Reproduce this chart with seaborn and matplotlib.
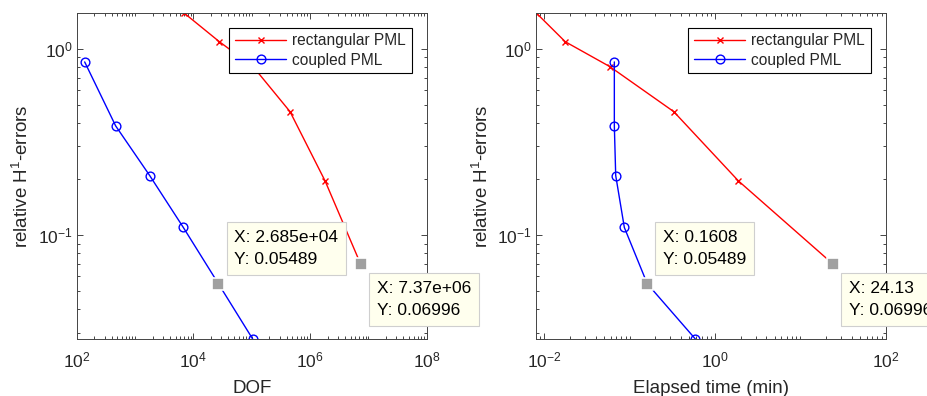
import numpy as np
import pandas as pd
import seaborn as sns
import matplotlib
matplotlib.use("Agg")
import matplotlib.pyplot as plt
from matplotlib.ticker import LogLocator, NullFormatter

# ---- data ----
dof_rect = [6830, 27900, 106000, 454000, 1810000, 7370000]
err_rect = [1.566, 1.094, 0.803, 0.4607, 0.1957, 0.06996]
dof_coup = [137, 466, 1784, 6730, 26850, 104000]
err_coup = [0.852, 0.386, 0.209, 0.110, 0.05489, 0.0277]
time_rect = [0.0080, 0.0176, 0.0589, 0.329, 1.88, 24.13]
time_coup = [0.0662, 0.0662, 0.0687, 0.0867, 0.1608, 0.589]
labels = ["rectangular PML", "coupled PML"]
xlabels = ["DOF", "Elapsed time (min)"]
ylabel = "relative H$^{1}$-errors"
# datatips: (x, y, text, above?)
tips_left = [(2.685e4, 0.05489, "X: 2.685e+04\nY: 0.05489", True),
             (7.37e6, 0.06996, "X: 7.37e+06\nY: 0.06996", False)]
tips_right = [(0.1608, 0.05489, "X: 0.1608\nY: 0.05489", True),
              (24.13, 0.06996, "X: 24.13\nY: 0.06996", False)]

sns.set_theme(style="white")
plt.rcParams["font.family"] = ["Liberation Sans", "DejaVu Sans"]
plt.rcParams["mathtext.fontset"] = "custom"
plt.rcParams["mathtext.rm"] = "Liberation Sans"
plt.rcParams["mathtext.it"] = "Liberation Sans"
plt.rcParams["mathtext.bf"] = "Liberation Sans"
plt.rcParams["axes.unicode_minus"] = False

W, H = 927, 396
fig = plt.figure(figsize=(W / 100, H / 100), dpi=100)
axL = fig.add_axes([76.7 / W, (H - 339) / H, 350 / W, 326.3 / H])
axR = fig.add_axes([536 / W, (H - 339) / H, 349.7 / W, 326.3 / H])

dark = "#262626"
ymin, ymax = min(err_rect + err_coup), max(err_rect + err_coup)

def draw(ax, xr, xc, xlim, xticks, tips, xlabel):
    sns.lineplot(x=xr, y=err_rect, ax=ax, sort=False, estimator=None,
                 color="red", lw=1.0, marker="x", markersize=5,
                 mec="red", mew=1.0, label=labels[0])
    sns.lineplot(x=xc, y=err_coup, ax=ax, sort=False, estimator=None,
                 color="blue", lw=1.0, marker="o", markersize=6.3,
                 mfc="none", mec="blue", mew=1.0, label=labels[1])
    ax.set_xscale("log")
    ax.set_yscale("log")
    ax.set_xlim(*xlim)
    ax.set_ylim(ymin, ymax)
    ax.set_xticks(xticks)
    ax.xaxis.set_minor_locator(LogLocator(base=10, subs=np.arange(1, 10), numticks=100))
    ax.xaxis.set_minor_formatter(NullFormatter())
    ax.set_yticks([0.1, 1.0])
    ax.yaxis.set_minor_locator(LogLocator(base=10, subs=np.arange(2, 10), numticks=100))
    ax.yaxis.set_minor_formatter(NullFormatter())
    ax.tick_params(which="both", direction="in", top=True, right=True,
                   bottom=True, left=True,
                   color=dark, labelcolor=dark, labelsize=12.5, width=0.6)
    ax.tick_params(axis="x", which="major", pad=8)
    ax.tick_params(axis="y", which="major", pad=3)
    ax.tick_params(which="major", length=4)
    ax.tick_params(which="minor", length=2.2)
    for s in ax.spines.values():
        s.set_color("#444444")
        s.set_linewidth(0.7)
    ax.set_xlabel(xlabel, fontsize=13.5, color=dark, labelpad=7)
    ax.set_ylabel(ylabel, fontsize=13.5, color=dark, labelpad=4)
    leg = ax.legend(loc="upper right", bbox_to_anchor=(0.957, 0.954),
                    borderaxespad=0, fontsize=11.2, handlelength=3.3,
                    fancybox=False, framealpha=1, edgecolor="black",
                    borderpad=0.35, labelspacing=0.3, handletextpad=0.4)
    leg.get_frame().set_linewidth(0.8)
    for (tx, ty, txt, above) in tips:
        ax.plot([tx], [ty], marker="s", markersize=8.5, color="#a0a0a0",
                mec="white", mew=1.2, zorder=6, clip_on=False)
        ax.annotate(txt, xy=(tx, ty), xycoords="data",
                    xytext=(11.5, 12 if above else -12), textcoords="offset points",
                    ha="left", va="bottom" if above else "top",
                    fontsize=12.5, color="black", linespacing=1.6,
                    annotation_clip=False, zorder=7,
                    bbox=dict(boxstyle="square,pad=0.45", fc="#FFFFEE",
                              ec="#cfcfcf", lw=0.8))

draw(axL, dof_rect, dof_coup, (1e2, 1e8), [1e2, 1e4, 1e6, 1e8], tips_left, xlabels[0])
draw(axR, time_rect, time_coup, (min(time_rect), 1e2), [1e-2, 1e0, 1e2], tips_right, xlabels[1])

fig.savefig("out.png", dpi=100)
